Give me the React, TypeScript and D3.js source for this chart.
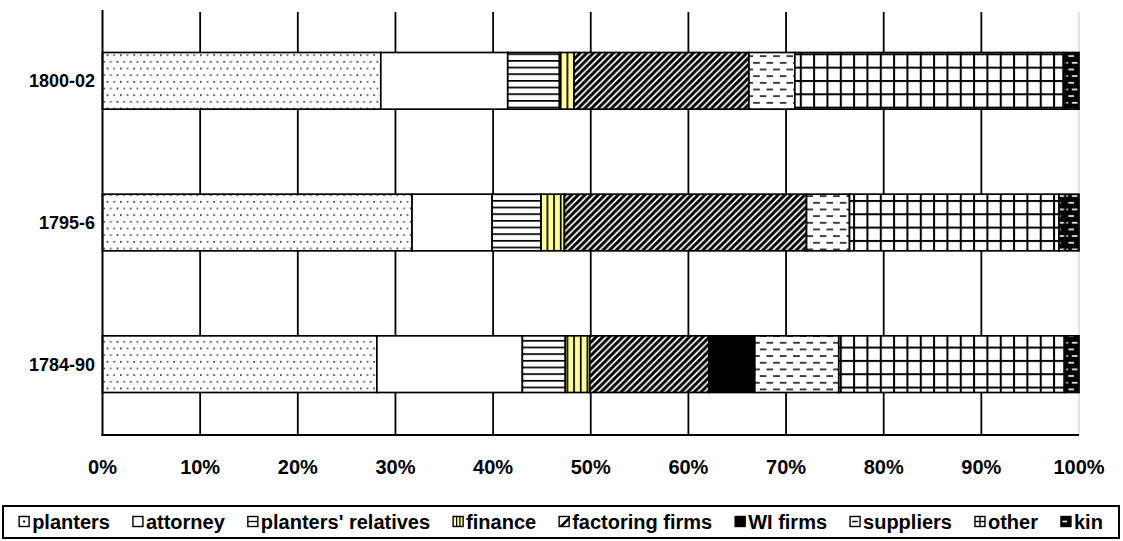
import React, { useMemo } from "react";
import * as d3 from "d3";

// ---- data ----
const categories = ["1800-02", "1795-6", "1784-90"];
const seriesNames = [
  "planters",
  "attorney",
  "planters' relatives",
  "finance",
  "factoring firms",
  "WI firms",
  "suppliers",
  "other",
  "kin",
];
const planters = [28.5, 31.7, 28.1];
const attorney = [13.0, 8.2, 14.9];
const plantersRelatives = [5.3, 5.0, 4.4];
const finance = [1.5, 2.4, 2.5];
const factoringFirms = [17.9, 24.8, 12.2];
const wiFirms = [0, 0, 4.7];
const suppliers = [4.7, 4.4, 8.6];
const other = [27.5, 21.45, 23.1];
const kin = [1.6, 2.05, 1.5];
const xTicks = [0, 0.1, 0.2, 0.3, 0.4, 0.5, 0.6, 0.7, 0.8, 0.9, 1];

const seriesValues = [planters, attorney, plantersRelatives, finance, factoringFirms, wiFirms, suppliers, other, kin];

const W = 1123;
const H = 541;
const FONT = "'Liberation Sans', Arial, sans-serif";
const FS = 20;
const CAT_FS = 18;

const T = 13.33; // pattern tile
const h = T / 2;
const q = T / 4;
const lw = 1.7;

function Patterns() {
  return (
    <defs>
      <pattern id="pat0" patternUnits="userSpaceOnUse" width={T} height={T}>
        <rect width={T} height={T} fill="#fff" />
        <rect x={0} y={1} width={1.7} height={1.7} fill="#333" />
        <rect x={h} y={1} width={1.7} height={1.7} fill="#555" />
        <rect x={q} y={1 + h} width={1.7} height={1.7} fill="#555" />
        <rect x={q + h} y={1 + h} width={1.7} height={1.7} fill="#333" />
      </pattern>
      <pattern id="pat1" patternUnits="userSpaceOnUse" width={T} height={T}>
        <rect width={T} height={T} fill="#fff" />
      </pattern>
      <pattern id="pat2" patternUnits="userSpaceOnUse" width={T} height={h}>
        <rect width={T} height={h} fill="#fff" />
        <rect x={0} y={0} width={T} height={lw} fill="#000" />
      </pattern>
      <pattern id="pat3" patternUnits="userSpaceOnUse" width={h} height={T}>
        <rect width={h} height={T} fill="#FFFF99" />
        <rect x={0} y={0} width={lw} height={T} fill="#000" />
      </pattern>
      <pattern id="pat4" patternUnits="userSpaceOnUse" width={h} height={h}>
        <rect width={h} height={h} fill="#fff" />
        <path
          d={`M${-h / 2},${h / 2} L${h / 2},${-h / 2} M0,${h} L${h},0 M${h / 2},${h * 1.5} L${h * 1.5},${h / 2}`}
          stroke="#000"
          strokeWidth={2.9}
        />
      </pattern>
      <pattern id="pat5" patternUnits="userSpaceOnUse" width={T} height={T}>
        <rect width={T} height={T} fill="#000" />
      </pattern>
      <pattern id="pat6" patternUnits="userSpaceOnUse" width={T} height={T}>
        <rect width={T} height={T} fill="#fff" />
        <rect x={0} y={2} width={h} height={lw} fill="#222" />
        <rect x={h} y={2 + h} width={h} height={lw} fill="#222" />
      </pattern>
      <pattern id="pat7" patternUnits="userSpaceOnUse" width={T} height={T}>
        <rect width={T} height={T} fill="#fff" />
        <rect x={0} y={0} width={T} height={2} fill="#000" />
        <rect x={0} y={0} width={2} height={T} fill="#000" />
      </pattern>
      <pattern id="pat8" patternUnits="userSpaceOnUse" width={T} height={T}>
        <rect width={T} height={T} fill="#000" />
        <rect x={2} y={2} width={5.5} height={1.6} fill="#fff" />
        <rect x={0} y={2 + h} width={1.6} height={1.6} fill="#fff" />
        <rect x={5.5} y={2 + h} width={5.5} height={1.6} fill="#fff" />
      </pattern>
    </defs>
  );
}

function LegendIcon({ j, x, y, s }: { j: number; x: number; y: number; s: number }) {
  const c = s / 2;
  const bg = j === 5 || j === 8 ? "#000" : j === 3 ? "#FFFF99" : "#fff";
  let inner: React.ReactNode = null;
  if (j === 0) inner = <rect x={c - 1} y={c - 1} width={2} height={2} fill="#000" />;
  if (j === 2) inner = <line x1={0} x2={s} y1={c} y2={c} stroke="#000" strokeWidth={1.4} />;
  if (j === 3)
    inner = (
      <g stroke="#000" strokeWidth={1.3}>
        <line x1={s * 0.35} x2={s * 0.35} y1={0} y2={s} />
        <line x1={s * 0.68} x2={s * 0.68} y1={0} y2={s} />
      </g>
    );
  if (j === 4) inner = <path d={`M0,${s} L${s},0 L${s},${s * 0.35} L${s * 0.35},${s} Z`} fill="#000" />;
  if (j === 6) inner = <line x1={s * 0.2} x2={s * 0.8} y1={c} y2={c} stroke="#000" strokeWidth={1.4} />;
  if (j === 7)
    inner = (
      <g stroke="#000" strokeWidth={1.4}>
        <line x1={0} x2={s} y1={c} y2={c} />
        <line x1={c} x2={c} y1={0} y2={s} />
      </g>
    );
  if (j === 8) inner = <rect x={s * 0.15} y={c - 0.8} width={s * 0.45} height={1.6} fill="#fff" />;
  return (
    <g transform={`translate(${x},${y})`}>
      <rect width={s} height={s} fill={bg} />
      {inner}
      <rect width={s} height={s} fill="none" stroke="#000" strokeWidth={1.4} />
    </g>
  );
}

export default function App() {
  const x0 = 102.5;
  const x1 = 1079;
  const yTop = 10;
  const yBot = 435;

  const x = d3.scaleLinear().domain([0, 1]).range([x0, x1]);
  const y = d3
    .scaleBand<string>()
    .domain(categories)
    .range([yTop, yBot])
    .paddingInner(0.6)
    .paddingOuter(0.3);

  const rows = categories.map((c, i) => {
    const r: Record<string, any> = { cat: c };
    seriesNames.forEach((s, j) => (r[s] = seriesValues[j][i]));
    return r;
  });
  const stacked = d3.stack<any>().keys(seriesNames).offset(d3.stackOffsetExpand)(rows);

  const legendLayout = useMemo(() => {
    const canvas = document.createElement("canvas");
    const ctx = canvas.getContext("2d")!;
    ctx.font = `bold ${FS}px ${FONT}`;
    const marker = 10;
    const gap1 = 3;
    const gap2 = 23;
    const widths = seriesNames.map((s) => ctx.measureText(s).width);
    const total = widths.reduce((a, b) => a + b, 0) + seriesNames.length * (marker + gap1) + (seriesNames.length - 1) * gap2;
    let cx = 3 + (1116 - total) / 2;
    return seriesNames.map((s, i) => {
      const item = { name: s, mx: cx, tx: cx + marker + gap1 };
      cx += marker + gap1 + widths[i] + gap2;
      return item;
    });
  }, []);

  return (
    <svg
      width={W}
      height={H}
      style={{ position: "absolute", left: 0, top: 0, background: "#fff" }}
      fontFamily={FONT}
    >
      <Patterns />
      <rect width={W} height={H} fill="#fff" />
      {/* gridlines */}
      {xTicks.slice(1, -1).map((t) => (
        <line key={t} x1={x(t)} x2={x(t)} y1={yTop + 2} y2={yBot} stroke="#000" strokeWidth={1.8} />
      ))}
      <line x1={x(1)} x2={x(1)} y1={yTop + 2} y2={yBot} stroke="#c8c8c8" strokeWidth={1} />
      {/* bars */}
      {stacked.map((layer, j) => (
        <g key={layer.key}>
          {layer.map((d, i) =>
            d[1] - d[0] > 0 ? (
              <rect
                key={i}
                x={x(d[0])}
                y={y(categories[i])!}
                width={x(d[1]) - x(d[0])}
                height={y.bandwidth()}
                fill={`url(#pat${j})`}
                stroke="#000"
                strokeWidth={1.7}
              />
            ) : null
          )}
        </g>
      ))}
      {/* axes */}
      <line x1={x0} x2={x0} y1={yTop} y2={yBot + 1} stroke="#000" strokeWidth={2} />
      <line x1={x0 - 1} x2={x1} y1={yBot} y2={yBot} stroke="#000" strokeWidth={2} />
      {xTicks.map((t) => (
        <text key={t} x={x(t)} y={474} textAnchor="middle" fontWeight="bold" fontSize={FS} fill="#000">
          {d3.format(".0%")(t)}
        </text>
      ))}
      {categories.map((c) => (
        <text
          key={c}
          x={95}
          y={y(c)! + y.bandwidth() / 2}
          dy="0.36em"
          textAnchor="end"
          fontWeight="bold"
          fontSize={CAT_FS}
          fill="#000"
        >
          {c}
        </text>
      ))}
      {/* legend */}
      <rect x={3} y={506} width={1116} height={32} fill="#fff" stroke="#000" strokeWidth={2} />
      {legendLayout.map((it, j) => (
        <g key={it.name}>
          <LegendIcon j={j} x={it.mx} y={516.5} s={10} />
          <text x={it.tx} y={529} fontWeight="bold" fontSize={FS} fill="#000">
            {it.name}
          </text>
        </g>
      ))}
    </svg>
  );
}
